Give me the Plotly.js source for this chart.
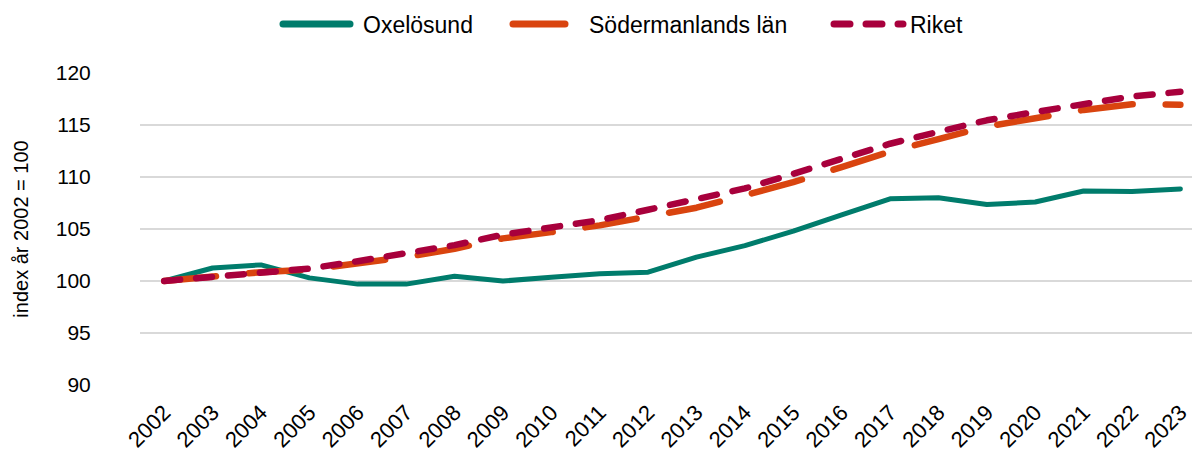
<!DOCTYPE html>
<html>
<head>
<meta charset="utf-8">
<script src="https://cdn.plot.ly/plotly-3.0.1.min.js"></script>
<style>
html,body{margin:0;padding:0;background:#fff;}
#chart{width:1192px;height:453px;}
path.js-line{stroke-linecap:round !important;stroke-linejoin:round !important;}
</style>
</head>
<body>
<div id="chart"></div>
<script>
const years = ['2002','2003','2004','2005','2006','2007','2008','2009','2010','2011','2012','2013','2014','2015','2016','2017','2018','2019','2020','2021','2022','2023'];
const oxelosund = [100, 101.25, 101.55, 100.3, 99.7, 99.7, 100.45, 100.0, 100.35, 100.7, 100.85, 102.3, 103.4, 104.8, 106.35, 107.9, 108.0, 107.35, 107.6, 108.65, 108.6, 108.85];
const sodermanland = [100, 100.5, 100.85, 101.1, 101.7, 102.3, 103.1, 104.1, 104.7, 105.35, 106.2, 107.05, 108.25, 109.5, 110.95, 112.45, 113.65, 114.85, 115.65, 116.45, 117.0, 116.95];
const riket = [100, 100.4, 100.8, 101.2, 101.9, 102.65, 103.45, 104.45, 105.2, 105.85, 106.85, 107.8, 108.9, 110.3, 111.8, 113.2, 114.35, 115.45, 116.25, 117.05, 117.75, 118.2];
const seriesNames = ['Oxelösund', 'Södermanlands län', 'Riket'];
const yTicks = [90, 95, 100, 105, 110, 115, 120];

const font = 'Liberation Sans, Arial, sans-serif';
const W = 1192, H = 453;

const traces = [
  {x: years, y: oxelosund, name: seriesNames[0], legend: 'legend', mode: 'lines', type: 'scatter',
   line: {color: '#007C6C', width: 5}},
  {x: years, y: sodermanland, name: seriesNames[1], legend: 'legend2', mode: 'lines', type: 'scatter',
   line: {color: '#D9440F', width: 6.5, dash: '52px,33px'}},
  {x: years, y: riket, name: seriesNames[2], legend: 'legend3', mode: 'lines', type: 'scatter',
   line: {color: '#A8003C', width: 6.5, dash: '16px,16px'}}
];

function leg(xpx, itemw) {
  return {orientation: 'h', xref: 'container', yref: 'container', x: xpx / W, xanchor: 'left',
          y: 1 - 24 / H, yanchor: 'middle', itemwidth: itemw, bgcolor: 'rgba(0,0,0,0)',
          font: {family: font, size: 23, color: '#000'}};
}

const layout = {
  width: W, height: H,
  margin: {l: 140, r: 0, t: 73, b: 68},
  paper_bgcolor: '#fff', plot_bgcolor: '#fff',
  font: {family: font, color: '#000', size: 21},
  showlegend: true,
  legend: leg(278, 75),
  legend2: leg(508, 71),
  legend3: leg(829, 71),
  xaxis: {type: 'category', range: [-0.5, 21.24], tickangle: -45, showgrid: false, zeroline: false, showline: false,
          ticks: 'outside', ticklen: 5, tickcolor: 'rgba(0,0,0,0)', tickfont: {family: font, size: 22, color: '#000'}},
  yaxis: {range: [90, 120], tickvals: yTicks, ticktext: yTicks.map(String), showgrid: true, gridcolor: '#d9d9d9', gridwidth: 1.5,
          zeroline: false, showline: false, ticks: 'outside', ticklen: 44, tickcolor: 'rgba(0,0,0,0)',
          tickfont: {family: font, size: 21, color: '#000'},
          title: {text: 'index år 2002 = 100', font: {family: font, size: 20, color: '#000'}, standoff: 21}, automargin: true}
};

const legendLineLen = [67, 57, 69];

Plotly.newPlot('chart', traces, layout, {displayModeBar: false, staticPlot: true}).then(function (gd) {
  const legNames = ['legend', 'legend2', 'legend3'];
  legNames.forEach(function (n, i) {
    const paths = gd.querySelectorAll('g.' + n + ' g.legendlines path');
    paths.forEach(function (p) {
      p.setAttribute('d', 'M5,0h' + legendLineLen[i]);
      p.style.strokeWidth = '7px';
    });
  });
});
</script>
</body>
</html>
